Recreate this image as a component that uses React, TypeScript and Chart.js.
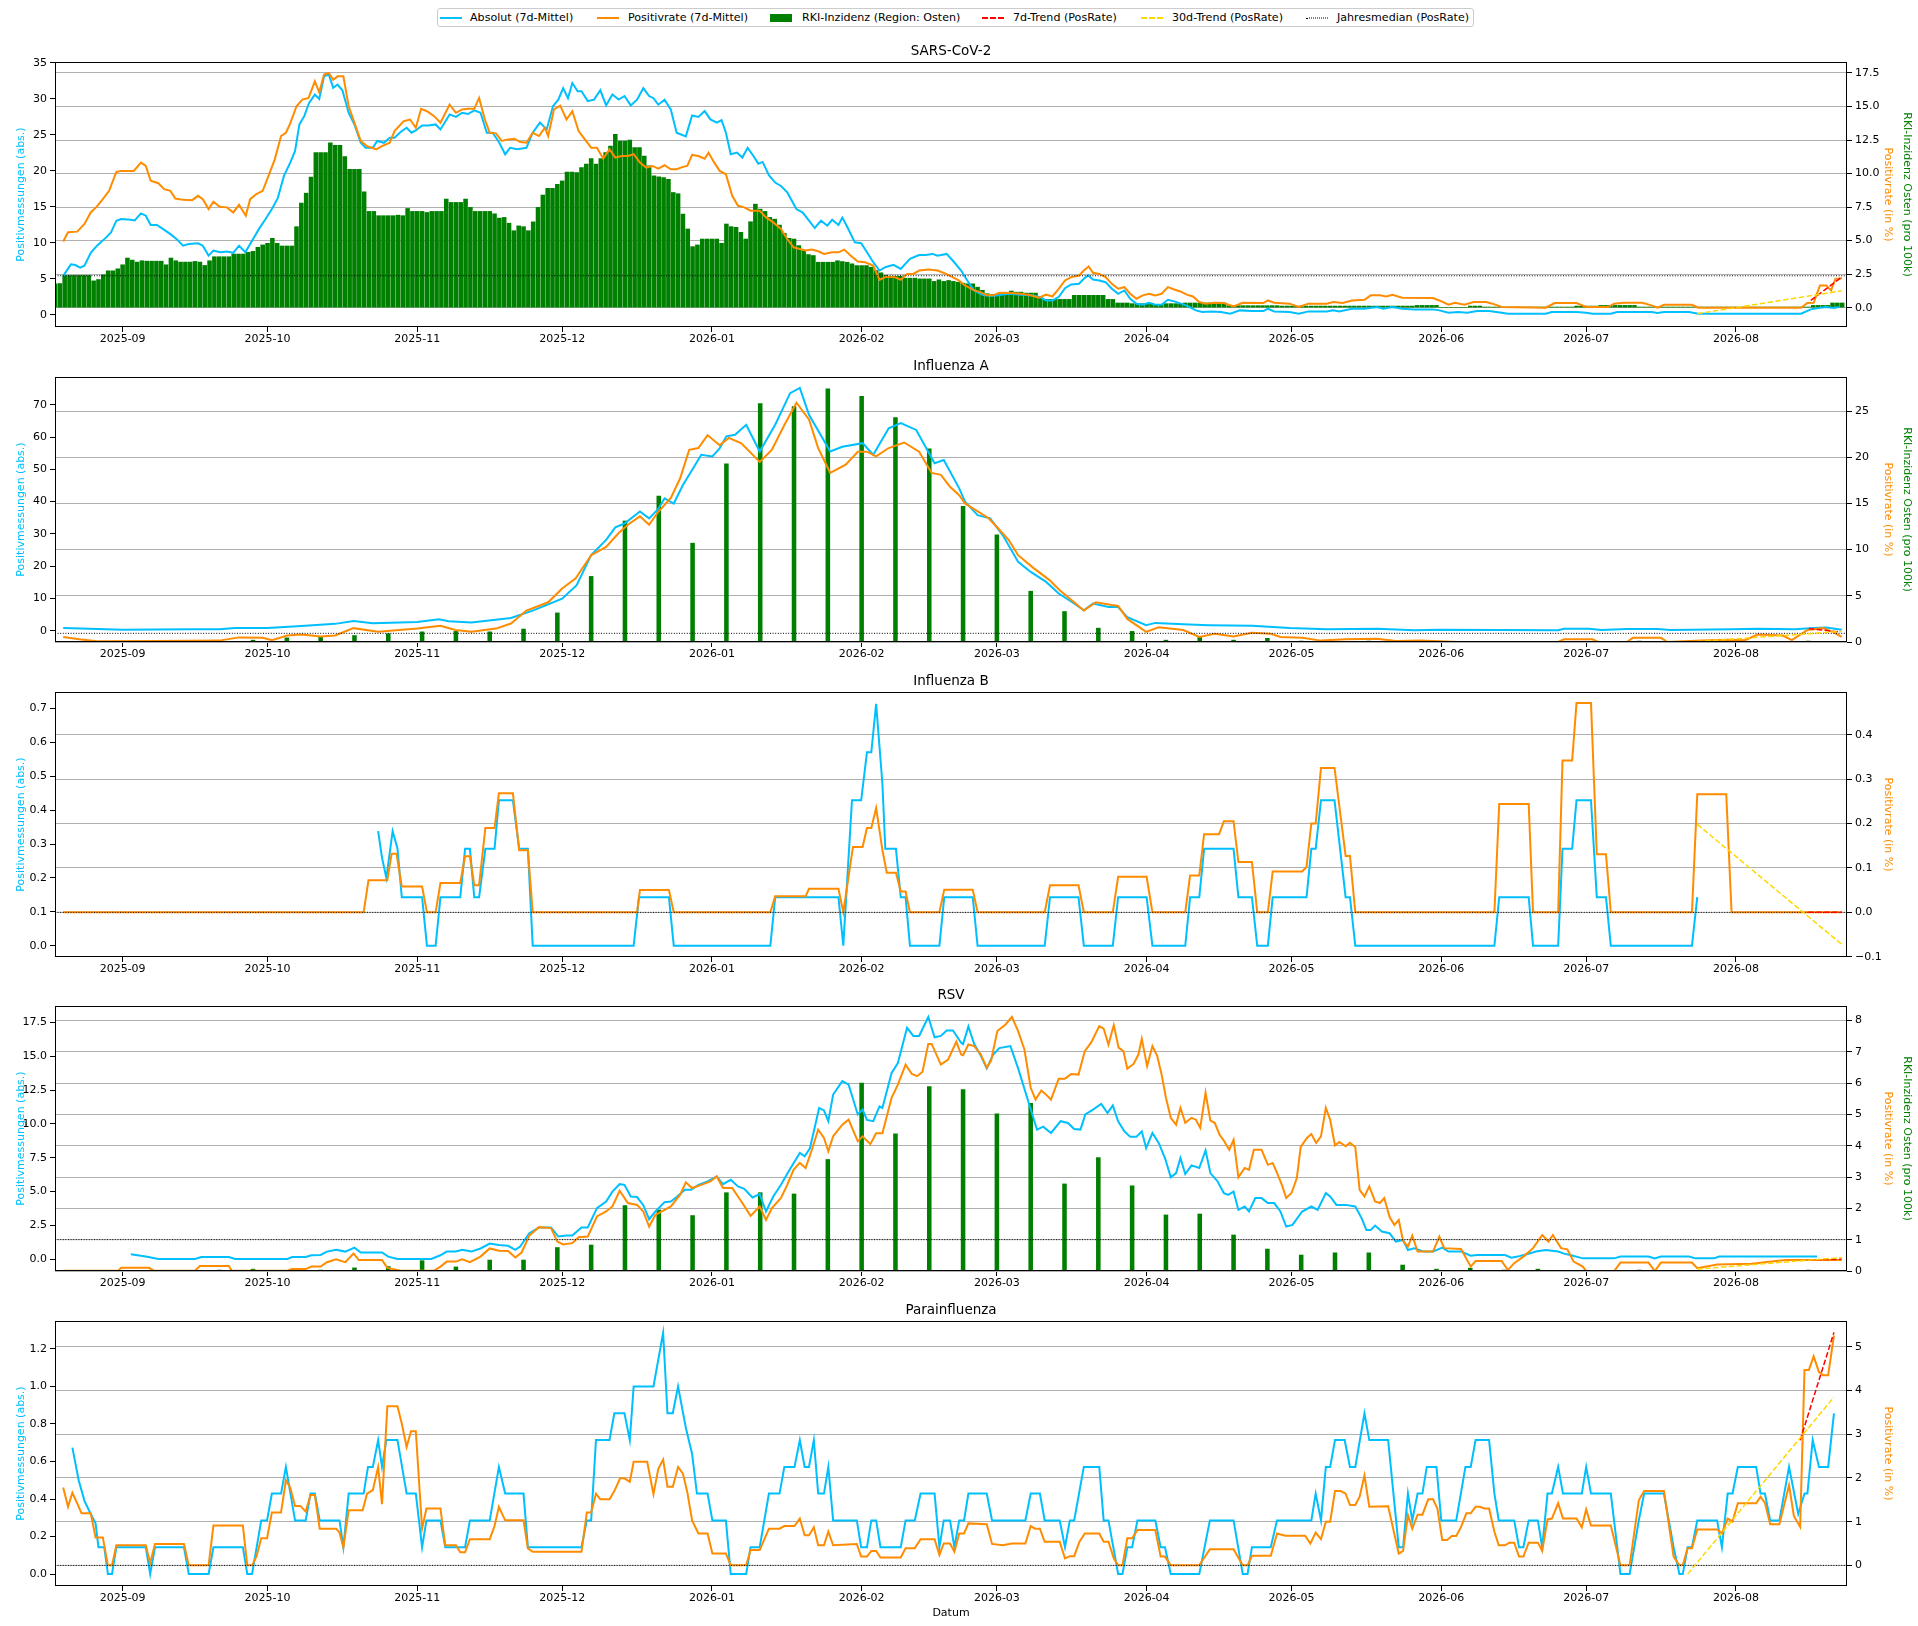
import { useEffect, useRef } from 'react';
import { Chart, registerables } from 'chart.js';

Chart.register(...registerables);
Chart.defaults.font.family = "'DejaVu Sans', sans-serif";
Chart.defaults.font.size = 11;
Chart.defaults.color = '#000';

// x values are days counted from 2025-08-19
const dayZero = Date.UTC(2025, 7, 19);
const monthTicks = ['2025-09', '2025-10', '2025-11', '2025-12', '2026-01', '2026-02', '2026-03', '2026-04', '2026-05', '2026-06', '2026-07', '2026-08'];
const monthDays = monthTicks.map(m => {
  const [y, mo] = m.split('-').map(Number);
  return (Date.UTC(y, mo - 1, 1) - dayZero) / 86400000;
});
const xMin = -1;
const xMax = 370;

type Pts = number[][];

// ---------- SARS-CoV-2 ----------
const sarsAbs: Pts = [[0.7,5.4],[2.3,7.0],[3.2,6.9],[4.2,6.55],[5.1,6.8],[6.4,8.6],[7.7,9.6],[9.6,10.75],[10.6,11.45],[11.7,13.07],[12.7,13.3],[14.7,13.2],[15.5,13.1],[16.8,14.08],[17.8,13.76],[18.8,12.47],[20.1,12.47],[21.4,11.9],[22.9,11.2],[24.2,10.5],[25.5,9.6],[26.7,9.83],[28.6,9.93],[29.6,9.6],[30.8,8.2],[31.8,8.9],[33.3,8.68],[34.6,8.77],[35.9,8.6],[37.1,9.6],[38.4,8.68],[40.1,10.62],[41.3,12.0],[42.6,13.3],[43.9,14.68],[45.1,16.16],[46.4,19.3],[47.7,21.15],[48.7,22.76],[49.6,26.45],[50.6,27.6],[51.6,29.45],[52.8,30.6],[53.7,30.0],[54.7,33.15],[55.7,33.38],[56.6,31.53],[57.5,32.0],[58.5,31.2],[59.8,28.07],[61,26.45],[62.3,23.9],[63.3,23.2],[64.8,23.2],[65.7,24.15],[67.1,23.9],[68.3,24.6],[69.3,24.6],[70.6,25.44],[71.8,25.99],[72.8,25.3],[73.7,25.62],[75,26.3],[76.3,26.3],[77.8,26.45],[78.8,25.76],[80.7,27.84],[82,27.5],[83.3,28.07],[84.5,27.9],[85.8,28.4],[87.1,28.07],[88.4,25.3],[89.6,25.3],[90.9,24.0],[92.2,22.3],[93.2,23.2],[94.7,23.0],[96.6,23.2],[97.9,25.3],[99.4,26.7],[100.8,25.76],[102.1,29.0],[103.2,29.9],[104.2,31.5],[105.2,30.1],[106.1,32.2],[107.2,31.07],[108,31.07],[109.3,29.7],[110.6,29.9],[111.9,31.2],[113.1,29.1],[114.4,30.6],[115.7,29.9],[116.9,30.4],[118.2,29.1],[119.5,29.9],[120.8,31.5],[122,30.4],[122.9,30.1],[123.9,29.2],[125.2,29.9],[126.5,28.5],[127.1,26.9],[127.7,25.3],[129.6,24.8],[130.9,27.7],[132.2,27.5],[133.5,28.3],[134.7,27.15],[136,26.7],[137,27.05],[137.9,25.3],[138.9,22.3],[140.2,22.53],[141.3,21.84],[142.4,23.2],[143.6,22.07],[144.6,21.0],[145.5,21.24],[146.8,19.4],[148.1,18.37],[149.3,17.9],[150.6,17.0],[152.5,14.68],[153.8,14.2],[155.1,13.07],[156.3,12.05],[157.6,13.07],[158.9,12.37],[159.9,13.2],[161.2,12.47],[162,13.5],[162.9,12.37],[164.6,10.06],[165.9,9.93],[167.1,8.68],[168.4,7.3],[169.7,6.14],[170.9,6.6],[172.6,6.93],[174.1,6.37],[176,7.76],[177.9,8.3],[179.2,8.3],[180.7,8.45],[181.7,8.2],[183.6,8.45],[184.9,7.5],[186.6,6.14],[188.1,4.52],[189.3,3.37],[191,2.77],[192.6,2.59],[193.9,2.68],[196.5,2.9],[199,2.77],[201.6,2.68],[202.9,2.45],[204.2,1.99],[205.5,1.99],[206.8,2.45],[208.1,3.69],[209.4,4.2],[211,4.3],[212,4.99],[212.9,5.45],[213.9,4.89],[215.2,4.75],[216.5,4.52],[217.8,3.6],[219.1,2.9],[220.4,3.37],[221.6,2.22],[222.9,1.52],[224.2,1.38],[225.5,1.66],[226.8,1.38],[228.1,1.38],[229.4,2.08],[230.7,1.85],[232.6,1.43],[233.9,1.06],[235.2,0.6],[236.5,0.37],[238.4,0.46],[240.4,0.37],[242.3,0.14],[244.3,0.6],[246.8,0.5],[249.2,0.5],[250.1,0.83],[251.4,0.46],[254.6,0.37],[256.5,0.14],[258.5,0.46],[262.3,0.46],[263.6,0.6],[264.9,0.46],[267.5,0.83],[270.1,0.83],[272.7,1.06],[274,0.83],[275.9,1.06],[277.9,0.83],[280.4,0.74],[284.3,0.74],[285.6,0.6],[287.5,0.28],[289.5,0.37],[291.4,0.28],[293.4,0.5],[295.9,0.5],[298.5,0.28],[299.8,0.14],[307.6,0.14],[308.9,0.37],[314,0.37],[316,0.28],[317.3,0.14],[321.1,0.14],[322.4,0.37],[329.5,0.37],[330.8,0.23],[332.1,0.37],[337.3,0.37],[339.2,0.14],[360.5,0.14],[362.5,0.74],[364.4,0.97],[365.7,1.06],[367.3,0.92],[368.3,1.06]];
const sarsRate: Pts = [[0.7,4.93],[1.7,5.62],[3.6,5.67],[5.1,6.24],[6.4,7.1],[7.7,7.55],[8.9,8.1],[10.2,8.71],[11.7,10.12],[12.7,10.2],[15.3,10.2],[16.8,10.82],[17.8,10.57],[18.8,9.46],[20.4,9.28],[21.6,8.84],[22.9,8.71],[23.9,8.14],[25.5,8.04],[27.4,8.02],[28.6,8.34],[29.6,8.09],[30.8,7.35],[31.8,7.9],[33.1,7.52],[34.6,7.48],[35.9,7.1],[37.1,7.67],[38.5,6.86],[39.4,8.09],[40.7,8.47],[42,8.71],[43.2,9.83],[44.5,11.06],[45.8,12.8],[46.8,13.04],[47.7,13.74],[49,15.02],[50.2,15.52],[51.5,15.64],[52.8,16.88],[53.7,16.06],[54.7,17.38],[55.7,17.5],[56.6,17.0],[57.5,17.25],[58.7,17.25],[59.8,15.02],[61,13.79],[62.3,12.43],[63.6,12.05],[65.5,11.81],[66.7,12.05],[68.3,12.3],[69.3,13.17],[71.2,13.91],[72.5,14.03],[73.7,13.42],[74.8,14.83],[76,14.65],[77.5,14.28],[78.8,13.79],[80.7,15.15],[82,14.53],[83.3,14.78],[84.5,14.83],[85.8,14.83],[86.8,15.64],[88,14.03],[89,13.04],[90.3,13.0],[91.5,12.43],[92.8,12.55],[94.1,12.6],[95.3,12.35],[96.6,12.3],[97.9,13.04],[99.2,12.8],[100.4,13.42],[101.1,12.8],[102.3,14.78],[103.6,15.07],[104.9,14.03],[106.1,14.65],[107.4,13.17],[108.7,12.55],[110,11.93],[111.2,11.93],[112.5,11.11],[113.8,11.81],[115,11.19],[116.3,11.31],[117.6,11.31],[118.8,11.44],[120.1,10.82],[121.4,10.45],[122.7,10.57],[123.9,10.37],[125.2,10.62],[126.5,10.32],[127.7,10.32],[129,10.5],[129.9,10.57],[130.9,11.39],[132.2,11.31],[133.5,11.11],[134.3,11.56],[135.4,10.87],[136.6,10.2],[137.9,9.95],[139.2,8.34],[140.4,7.6],[141.7,7.48],[143,7.23],[144.9,7.23],[146.2,6.73],[147.7,6.36],[149.3,5.87],[150.6,5.12],[151.9,4.5],[153.2,4.38],[154.4,4.26],[155.7,4.33],[157,4.21],[158.2,4.01],[159.9,4.13],[161.2,4.13],[162.4,4.33],[163.7,3.89],[165.2,3.44],[166.7,3.39],[168.4,3.14],[169.7,2.08],[170.9,2.28],[172.8,2.28],[174.1,2.08],[175.4,2.52],[176.7,2.52],[177.9,2.77],[179.8,2.85],[181.7,2.77],[183.5,2.52],[184.8,2.28],[186.1,2.03],[187.4,1.66],[189.3,1.29],[190.6,1.16],[191.9,0.92],[193.2,0.92],[194.5,1.11],[197.1,1.09],[199,1.04],[201,0.92],[202.7,0.74],[204.2,0.97],[205.5,0.84],[206.8,1.41],[208.1,2.03],[209.4,2.28],[211,2.4],[212,2.77],[213,3.07],[213.9,2.6],[215.2,2.52],[216.5,2.28],[217.8,1.78],[219.1,1.41],[220.4,1.53],[221.6,1.04],[222.9,0.67],[224.2,0.92],[225.5,1.04],[226.8,0.92],[228.1,1.04],[229.4,1.53],[230.7,1.36],[232,1.21],[233.3,0.97],[234.6,0.84],[235.9,0.42],[237.2,0.3],[239.1,0.37],[241,0.35],[243,0.1],[244.9,0.37],[249.2,0.35],[250.1,0.54],[251.4,0.37],[254.6,0.3],[256.5,0.05],[258.5,0.3],[262.3,0.3],[263.6,0.42],[265.6,0.35],[267.5,0.54],[270.1,0.59],[271.4,0.92],[273.3,0.92],[274.6,0.84],[275.9,0.97],[277.9,0.74],[284.3,0.72],[285.6,0.54],[287.5,0.22],[288.8,0.37],[290.8,0.22],[292.7,0.42],[295.3,0.42],[296.6,0.3],[298.5,0.05],[307.6,0],[309.5,0.35],[314,0.35],[316,0.05],[320.5,0.05],[321.8,0.3],[323.7,0.37],[327.6,0.37],[329.5,0.17],[330.8,0],[332.1,0.22],[337.9,0.22],[339.2,0],[360.5,0],[361.8,0.35],[363.1,0.37],[364.4,1.66],[365.7,1.66],[366.7,1.29],[367.6,2.15],[368.9,2.2]];
// daily RKI incidence, first value is day -1
const sarsBarStart = -1;
const sarsBars = [
  1.78, 1.8, 2.4, 2.4, 2.4, 2.4, 2.4, 2.4, 2.0, 2.1, 2.45,
  2.75, 2.75, 2.9, 3.2, 3.7, 3.55, 3.4, 3.5, 3.47, 3.47,
  3.47, 3.47, 3.2, 3.7, 3.5, 3.4, 3.4, 3.4, 3.45, 3.4,
  3.15, 3.5, 3.8, 3.8, 3.8, 3.8, 4.0, 4.0, 4.0, 4.13,
  4.2, 4.5, 4.68, 4.8, 5.17, 4.8, 4.6, 4.6, 4.6, 6.04,
  7.8, 8.54, 9.73, 11.56, 11.56, 11.56, 12.3, 12.1, 12.1, 11.26,
  10.32, 10.32, 10.32, 8.64, 7.18, 7.18, 6.86, 6.86, 6.86, 6.86,
  6.9, 6.86, 7.4, 7.18, 7.18, 7.18, 7.1, 7.18, 7.18, 7.18,
  8.1, 7.85, 7.85, 7.85, 8.1, 7.48, 7.18, 7.18, 7.18, 7.18,
  7.0, 6.68, 6.73, 6.3, 5.74, 6.1, 6.04, 5.74, 6.4, 7.48,
  8.4, 8.9, 8.9, 9.2, 9.45, 10.12, 10.12, 10.07, 10.45, 10.7,
  11.11, 10.7, 11.11, 11.56, 12.05, 12.92, 12.43, 12.43, 12.5, 11.93,
  11.93, 11.3, 10.57, 9.83, 9.75, 9.7, 9.58, 8.59, 8.5, 6.98,
  5.87, 4.55, 4.68, 5.12, 5.12, 5.12, 5.12, 4.8, 6.24, 6.04,
  5.99, 5.62, 5.12, 6.41, 7.72, 7.35, 7.18, 6.73, 6.6, 6.16,
  5.54, 5.17, 5.12, 4.63, 4.26, 3.96, 3.89, 3.39, 3.39, 3.39,
  3.39, 3.5, 3.44, 3.39, 3.27, 3.14, 3.14, 3.14, 3.02, 2.77,
  2.6, 2.4, 2.35, 2.35, 2.35, 2.2, 2.2, 2.2, 2.15, 2.15,
  2.15, 1.96, 2.08, 1.96, 2.03, 1.96, 1.9, 1.83, 1.78, 1.78,
  1.53, 1.3, 1.04, 0.97, 0.97, 0.97, 1.04, 1.24, 1.16, 1.16,
  1.09, 1.09, 1.09, 0.84, 0.62, 0.62, 0.62, 0.62, 0.62, 0.62,
  0.92, 0.92, 0.92, 0.92, 0.92, 0.92, 0.92, 0.62, 0.62, 0.35,
  0.35, 0.35, 0.3, 0.3, 0.3, 0.3, 0.3, 0.22, 0.22, 0.3,
  0.3, 0.3, 0.3, 0.35, 0.35, 0.35, 0.35, 0.35, 0.35, 0.35,
  0.35, 0.35, 0.15, 0.15, 0.15, 0.15, 0.15, 0.15, 0.15, 0.15,
  0.15, 0.15, 0.15, 0.12, 0.12, 0.12, 0.12, 0.12, 0.12, 0.12,
  0.12, 0.12, 0.12, 0.12, 0.12, 0.12, 0.12, 0.12, 0.12, 0.12,
  0.12, 0.12, 0.12, 0.12, 0.12, 0.12, 0.12, 0.12, 0.12, 0.12,
  0.12, 0.17, 0.17, 0.17, 0.17, 0.17, 0, 0, 0, 0,
  0, 0, 0.12, 0.12, 0.12, 0.05, 0.05, 0.05, 0.05, 0.05,
  0.05, 0.05, 0.05, 0.05, 0.05, 0.05, 0.05, 0.05, 0.05, 0.05,
  0.05, 0.05, 0.05, 0.05, 0.12, 0.12, 0.12, 0.12, 0.12, 0.17,
  0.17, 0.17, 0.17, 0.17, 0.17, 0.17, 0.17, 0.05, 0.05, 0.05,
  0.05, 0.05, 0.05, 0.05, 0.05, 0.05, 0.05, 0.05, 0.05, 0.05,
  0.05, 0.05, 0.05, 0.05, 0.05, 0.05, 0.05, 0.05, 0.05, 0.05,
  0.05, 0.05, 0.05, 0.05, 0.05, 0.05, 0.05, 0.05, 0.05, 0.05,
  0.05, 0.05, 0.05, 0.17, 0.17, 0.17, 0.17, 0.35, 0.35, 0.35,
];
const sarsTrend7: Pts = [[362.5,0.54],[368.9,2.28]];
const sarsTrend30: Pts = [[339,-0.45],[368.9,1.26]];
const sarsMedian = 2.38;

// weekly RKI incidence days (Sundays)
const weekDays = [19,26,33,40,47,54,61,68,75,82,89,96,103,110,117,124,131,138,145,152,159,166,173,180,187,194,201,208,215,222,229,236,243,250,257,264,271,278,285,292,299,306,313,320,327,334,341,348,355,362];

// ---------- Influenza A ----------
const fluAAbs: Pts = [[0.7,0.8],[13,0.3],[27,0.4],[33,0.4],[36.3,0.8],[43,0.8],[50,1.45],[57,2.1],[60.8,3.0],[64.8,2.3],[74,2.7],[78.5,3.5],[80.5,2.9],[85.2,2.5],[93.4,3.9],[97.9,6.2],[104,9.9],[107,14.1],[110,23.4],[113.1,28.1],[115,32],[116.9,33.2],[120.1,36.9],[122,34.8],[123.9,37.7],[125.2,41],[127.1,39.4],[129,45.1],[130.9,49.8],[132.8,54.5],[135.1,54],[136.6,56.5],[138,60.2],[139.8,60.7],[142.1,63.8],[144.9,55.5],[148.1,63.8],[151.2,73.6],[153.2,75.2],[155.1,66.9],[159.5,55.5],[162,57],[166.2,58.1],[168.4,54.5],[171.6,62.7],[174.1,64.3],[177.3,62.2],[181.1,51.9],[183,52.9],[186.2,44.1],[187.4,40],[190,35.8],[192.6,34.8],[195.2,29.6],[198.4,21.3],[201,18.2],[204.2,15.1],[206.8,11.5],[210,8.4],[212,6.3],[213.9,8.4],[217.1,7.3],[219.1,7.3],[221,4.2],[224.9,1.7],[226.8,2.4],[233.9,1.9],[237.8,1.7],[246.8,1.5],[254.6,0.8],[262.3,0.4],[272.7,0.6],[280.4,0.1],[285.6,0.3],[310.2,0.1],[311.4,0.6],[316.6,0.6],[319.2,0.2],[324.4,0.5],[330.8,0.5],[333.4,0.2],[346.3,0.4],[351.5,0.6],[359.2,0.4],[363.1,0.8],[365.7,1.0],[368.9,0.3]];
const fluARate: Pts = [[0.7,0.55],[4,0.3],[7.7,0.07],[20,0.1],[33,0.15],[37.1,0.5],[42,0.45],[43.9,0.2],[47.1,0.7],[50,0.8],[54,0.6],[57,0.7],[60.8,1.5],[65.9,1.1],[74,1.45],[78.8,1.75],[81.9,1.3],[85.2,1.1],[90.3,1.45],[93.4,2.0],[96.6,3.4],[101.1,4.3],[104,5.8],[106.8,6.9],[110,9.4],[113.1,10.3],[115.7,11.8],[117.6,12.7],[120.1,13.6],[122,12.7],[123.9,14.1],[126.5,15.6],[128.4,17.7],[130.3,20.8],[132.2,21.0],[134.1,22.4],[136.6,21.3],[138.5,22.1],[141.1,21.5],[144.9,19.5],[147.4,20.8],[150,23.5],[152.5,25.9],[155.1,24.1],[157,21.0],[159.5,18.3],[162.7,19.2],[165.2,20.6],[167.1,20.6],[169,20.1],[171.6,21.0],[174.8,21.6],[177.9,20.6],[180.5,18.3],[182.4,18.1],[184.3,16.8],[186.2,15.9],[187.4,15],[192.3,13.4],[193.9,12.5],[196.5,11],[198.4,9.4],[201.6,8.0],[204.9,6.7],[207,5.6],[210,4.3],[212,3.4],[214.5,4.3],[217.8,4.0],[219.1,3.9],[221,2.5],[224.9,1.1],[227.5,1.6],[232.6,1.3],[235.9,0.55],[239.1,0.9],[243,0.6],[246.8,1.0],[250.7,0.9],[252.7,0.55],[257.2,0.45],[261.1,0.15],[266.2,0.3],[272.7,0.35],[276.6,0.1],[281.7,0.15],[289.5,0],[310.2,0],[311.4,0.3],[317.3,0.3],[318.5,0],[324.4,0],[325.7,0.45],[331.5,0.45],[332.8,0],[339.9,0.15],[345,0.25],[348.9,0.2],[351.5,0.8],[356.7,0.7],[358.6,0.2],[361.8,1.3],[365.1,1.5],[367,1.1],[368.9,0.55]];
const fluABars = [0,0,0.1,0.2,0.45,0.6,0.7,0.9,1.1,1.15,1.1,1.4,3.15,7.1,13.1,15.8,10.7,19.3,25.8,25.5,27.4,26.6,24.3,20.9,14.7,11.6,5.5,3.3,1.5,1.15,0.2,0.55,0.2,0.4,0.1,0.05,0.1,0.05,0.05,0.05,0.05,0.05,0.05,0.05,0.1,0.05,0.05,0.05,0.05,0.1];
const fluATrend7: Pts = [[362.1,1.45],[368.3,1.1]];
const fluATrend30: Pts = [[339,0.05],[368.9,1.15]];
const fluAMedian = 0.94;

// ---------- Influenza B ----------
const fluBAbs: Pts = [[65.9,0.338],[66.7,0.26],[67.6,0.2],[68.9,0.338],[69.9,0.287],[70.8,0.143],[75,0.143],[76,0],[77.8,0],[78.8,0.143],[82.9,0.143],[83.9,0.286],[84.9,0.286],[85.8,0.143],[86.8,0.143],[88.1,0.286],[90,0.286],[90.9,0.429],[93.8,0.429],[95.1,0.286],[96.9,0.286],[97.9,0],[118.8,0],[119.9,0.143],[126.1,0.143],[127.1,0],[147.1,0],[148.1,0.143],[161.2,0.143],[162.2,0],[164,0.429],[165.9,0.429],[167.1,0.571],[168,0.571],[169,0.714],[170.3,0.478],[170.9,0.286],[173.1,0.286],[174.1,0.143],[175.1,0.143],[176,0],[182.1,0],[183.1,0.143],[189,0.143],[190,0],[203.9,0],[205,0.143],[210.9,0.143],[212,0],[218,0],[219.1,0.143],[225,0.143],[226.2,0],[233,0],[234,0.143],[235.9,0.143],[236.9,0.286],[243,0.286],[244,0.143],[246.8,0.143],[247.9,0],[250.1,0],[251.1,0.143],[258.1,0.143],[259.1,0.286],[260,0.286],[261.1,0.429],[263.9,0.429],[266.2,0.143],[267.1,0.143],[268.2,0],[297,0],[298,0.143],[304.1,0.143],[305,0],[310.2,0],[311.1,0.286],[313.1,0.286],[314,0.429],[317,0.429],[318.2,0.143],[320.1,0.143],[321.1,0],[337.9,0],[339,0.143]];
const fluBRate: Pts = [[0.7,0],[62.9,0],[63.9,0.072],[67.8,0.072],[68.7,0.132],[69.7,0.132],[70.8,0.058],[75,0.058],[76,0],[77.8,0],[78.8,0.066],[82.9,0.066],[83.9,0.126],[84.9,0.126],[85.8,0.061],[86.8,0.061],[88.1,0.19],[90,0.19],[90.9,0.268],[93.8,0.268],[95.1,0.14],[96.9,0.14],[97.9,0],[119.5,0],[120.1,0.05],[126.1,0.05],[127.1,0],[147.1,0],[148.1,0.036],[154.4,0.036],[155.1,0.053],[161.2,0.053],[162.2,0],[164.2,0.147],[166.2,0.147],[167.1,0.19],[168,0.19],[169,0.235],[170.3,0.14],[171.2,0.089],[173.1,0.089],[174.1,0.047],[175.1,0.047],[176,0],[182.1,0],[183.1,0.051],[189,0.051],[190,0],[203.9,0],[205,0.061],[210.9,0.061],[212,0],[218,0],[219.1,0.08],[225,0.08],[226.2,0],[233,0],[234,0.083],[235.9,0.083],[236.9,0.176],[240,0.176],[241,0.205],[243,0.205],[244,0.113],[246.8,0.113],[247.9,0],[250.1,0],[251.1,0.092],[257.2,0.092],[258.1,0.102],[259.1,0.2],[260,0.2],[261.1,0.325],[263.9,0.325],[266.2,0.127],[267.1,0.127],[268.2,0],[297,0],[298,0.244],[304.1,0.244],[305,0],[310.2,0],[311.1,0.342],[313.1,0.342],[314,0.471],[317,0.471],[318.2,0.131],[320.1,0.131],[321.1,0],[337.9,0],[339,0.266],[345,0.266],[346.1,0],[368.9,0]];
const fluBTrend7: Pts = [[362,0],[368.9,0]];
const fluBTrend30: Pts = [[339,0.198],[368.9,-0.072]];
const fluBMedian = 0;

// ---------- RSV ----------
const rsvAbs: Pts = [[14.7,0.37],[17.8,0.2],[20.4,0.02],[28,0.02],[29.3,0.17],[35,0.17],[36.3,0.02],[47.1,0.02],[48.1,0.17],[50.9,0.17],[52.1,0.3],[54,0.32],[55.3,0.57],[57.2,0.7],[59.1,0.57],[61,0.86],[62.3,0.5],[66.7,0.5],[68,0.2],[69.9,0.02],[76.9,0.02],[78.8,0.3],[80.1,0.57],[82,0.57],[83.3,0.7],[85.2,0.57],[87.1,0.8],[89,1.16],[90.9,1.06],[92.8,1.0],[94.3,0.7],[95.3,0.94],[97.2,1.93],[99.2,2.35],[101.7,2.35],[103.2,1.68],[104.9,1.75],[106.1,1.75],[108,2.35],[109.3,2.35],[111.2,3.78],[113.1,4.27],[114.4,5.0],[115.9,5.55],[116.9,5.5],[118.2,4.64],[119.5,4.6],[120.8,4.0],[122,2.96],[123.3,3.53],[125.2,4.22],[126.5,4.27],[127.7,4.6],[129.4,5.13],[130.7,5.13],[132.2,5.5],[134.1,5.75],[136,6.12],[137.3,5.55],[138.9,5.87],[140.4,5.38],[141.7,5.2],[143.4,4.57],[144.9,4.81],[146.2,3.53],[147.7,4.64],[149.3,5.5],[150.6,6.32],[151.9,7.1],[153.2,7.85],[154.2,7.6],[155.3,8.2],[157.2,11.18],[158.2,11.0],[159.1,10.2],[160.1,12.17],[162,13.16],[163.3,12.9],[165.2,10.7],[166.2,11.06],[167.1,10.3],[168.4,10.2],[169.7,11.3],[170.3,11.18],[172.2,13.77],[173.5,14.5],[175.4,17.1],[176.7,16.5],[177.9,16.5],[179.8,17.9],[181.1,16.4],[182.4,16.5],[183.6,16.9],[184.9,16.9],[186.6,16.0],[187,15.9],[188.1,17.2],[189.3,15.9],[190.6,15.1],[191.9,14.1],[193.2,15.1],[194.5,15.6],[196.8,15.75],[198.4,14.1],[200.3,11.9],[202.3,9.58],[203.6,9.8],[205.2,9.33],[207.2,10.2],[208.7,10.07],[210,9.63],[211.3,9.58],[212.3,10.7],[213.9,11.06],[215.6,11.48],[216.9,10.8],[218,11.36],[219.1,10.2],[220.4,9.45],[221.6,9.06],[222.9,9.06],[224,9.45],[224.9,8.22],[226.2,9.33],[227.5,8.6],[228.8,7.48],[230,6.05],[231.1,6.37],[232,7.48],[233,6.3],[234.3,6.94],[235.9,6.74],[237.2,8.05],[238.2,6.37],[239.7,5.75],[241,4.89],[241.9,4.76],[243,5.01],[244,3.65],[245.3,3.9],[246.2,3.53],[247.5,4.52],[248.8,4.52],[250.1,4.15],[251.4,4.15],[252.7,3.53],[253.9,2.42],[255.2,2.54],[257.2,3.53],[259.1,3.9],[260.4,3.65],[262.1,4.89],[263,4.64],[264.3,4.02],[266.2,4.02],[268.2,3.9],[269.5,3.04],[270.5,2.17],[271.4,2.17],[272.3,2.49],[273.7,2.05],[275.3,1.93],[276.6,1.31],[278.1,1.43],[279.1,0.69],[280.4,0.81],[282.4,0.57],[284.3,0.57],[286.2,0.86],[287.5,0.57],[290.1,0.57],[292.1,0.27],[293.4,0.32],[299.2,0.32],[300.5,0.12],[301.8,0.2],[303.7,0.37],[305.6,0.57],[307.6,0.69],[308.9,0.64],[310.2,0.57],[311.4,0.42],[312.7,0.32],[315.3,0.07],[321.8,0.07],[323.1,0.2],[328.9,0.2],[330.2,0.07],[331.5,0.2],[337.3,0.2],[338.6,0.07],[342.5,0.07],[343.5,0.2],[363.8,0.2]];
const rsvRate: Pts = [[0.7,0.01],[12.1,0.01],[12.7,0.1],[18.5,0.1],[19.4,0.01],[28,0.01],[29,0.16],[35,0.16],[35.6,0.01],[47.1,0.01],[48.1,0.06],[50.9,0.06],[52.1,0.14],[54,0.14],[55.3,0.28],[57.2,0.37],[59.1,0.28],[60.8,0.56],[61.9,0.35],[66.7,0.35],[67.8,0.1],[70.6,0.01],[77.5,0.01],[78.8,0.14],[80.1,0.3],[82,0.3],[83.3,0.37],[84.9,0.28],[87.1,0.46],[89,0.72],[90.9,0.65],[92.8,0.64],[94.3,0.43],[95.6,0.59],[97.2,1.13],[99.2,1.4],[101.7,1.37],[103,0.94],[104.2,0.85],[106.1,0.89],[107.4,1.08],[109.3,1.1],[111.2,1.74],[113.1,1.9],[114.4,2.06],[115.9,2.56],[117.6,2.17],[119.5,2.11],[120.8,1.9],[122,1.42],[123.3,1.79],[125.2,1.95],[126.5,2.06],[128.4,2.43],[129.6,2.83],[130.9,2.65],[132.8,2.75],[134.7,2.86],[136,3.02],[137.3,2.65],[139.2,2.65],[141.1,2.22],[143,1.76],[144.9,2.06],[146.2,1.63],[147.4,2.0],[149.3,2.33],[150.6,2.75],[151.9,3.23],[153.2,3.45],[154.4,3.29],[155.7,3.87],[157,4.51],[158.2,4.25],[159.1,3.82],[160.1,4.3],[162,4.67],[163.3,4.83],[165.2,4.14],[166.2,4.3],[167.8,4.05],[169,4.4],[170.3,4.4],[172.2,5.53],[173.5,5.95],[175.1,6.59],[176.4,6.29],[177.5,6.22],[178.6,6.36],[179.8,7.25],[180.5,7.25],[182.4,6.59],[183.9,6.75],[185.6,7.32],[186.6,6.91],[187,6.89],[188.1,7.23],[189.3,7.18],[190.6,6.93],[191.9,6.49],[192.8,6.72],[194.1,7.66],[195.8,7.87],[197.1,8.11],[198.4,7.66],[199.7,7.07],[201,5.85],[202,5.47],[203.2,5.76],[204.2,5.63],[205.2,5.47],[206.8,6.14],[208.1,6.14],[209.4,6.29],[210.9,6.27],[212.2,7.02],[213.5,7.29],[215.2,7.82],[216.1,7.74],[217.1,7.23],[218.2,7.85],[219.2,7.13],[220.2,7.02],[221,6.46],[222.3,6.61],[223.3,6.91],[224,7.41],[225.1,6.54],[226.2,7.18],[227.2,6.86],[228.1,6.27],[229,5.53],[230,4.89],[231.1,4.67],[232,5.21],[233,4.73],[234.3,4.89],[235.2,4.83],[236.1,4.57],[237.2,5.69],[238.2,4.8],[239.1,4.73],[240.1,4.35],[241,4.16],[242.1,3.87],[243,4.19],[244,2.99],[245.3,3.29],[246.2,3.23],[247.2,3.87],[248.8,3.87],[250.1,3.39],[251.1,3.45],[252,3.13],[253,2.75],[253.9,2.33],[255,2.49],[256.1,2.97],[256.9,3.96],[258.2,4.25],[259.1,4.37],[260.1,4.09],[261.1,4.3],[262.1,5.21],[263,4.83],[264,4.01],[264.9,4.12],[266.2,3.98],[267.1,4.09],[268.2,3.96],[269.1,2.59],[270.1,2.38],[271.1,2.7],[272.3,2.22],[273.3,2.17],[274.2,2.33],[275.3,1.72],[276.3,1.47],[277.2,1.63],[278.1,0.96],[279.1,0.78],[280,1.13],[281.1,0.62],[284.3,0.62],[285.6,1.1],[286.6,0.73],[290.1,0.7],[292.1,0.14],[293.1,0.32],[298.5,0.32],[299.8,0.03],[301.1,0.25],[303,0.46],[305,0.73],[306.9,1.15],[308.2,0.94],[309.1,1.15],[310.8,0.73],[312.1,0.69],[313.4,0.3],[315.3,0.14],[316,0],[321.8,0],[323.1,0.27],[328.9,0.27],[330.2,0],[331.5,0.27],[337.9,0.27],[339,0.09],[343.1,0.21],[350.2,0.23],[357.3,0.35],[368.9,0.35]];
const rsvBars = [0.03,0.02,0.03,0.06,0.02,0.03,0.1,0.14,0.33,0.13,0.35,0.35,0.75,0.83,2.09,1.95,1.77,2.5,2.5,2.46,3.56,6.0,4.38,5.89,5.79,5.02,5.35,2.78,3.62,2.72,1.79,1.82,1.15,0.7,0.51,0.58,0.58,0.19,0.06,0.09,0.03,0.06,0.02,0,0.03,0,0,0,0,0.03];
const rsvTrend7: Pts = [[361.8,0.35],[368.9,0.38]];
const rsvTrend30: Pts = [[339,0.06],[368.9,0.43]];
const rsvMedian = 1.0;

// ---------- Parainfluenza ----------
const paraAbs: Pts = [[2.6,0.674],[3.9,0.5],[5.1,0.39],[6.4,0.32],[7.4,0.27],[8,0.143],[9.2,0.143],[9.95,0],[10.8,0],[11.7,0.143],[17.8,0.143],[18.7,0],[19.7,0.143],[25.7,0.143],[26.7,0],[30.8,0],[31.8,0.143],[37.9,0.143],[38.8,0],[39.8,0],[41.7,0.286],[42.9,0.286],[43.9,0.429],[45.8,0.429],[46.8,0.571],[48.7,0.286],[50.9,0.286],[51.9,0.429],[52.8,0.429],[53.8,0.286],[57.9,0.286],[58.7,0.143],[59.8,0.429],[62.9,0.429],[63.8,0.571],[64.8,0.571],[65.9,0.714],[66.7,0.571],[67.6,0.714],[69.9,0.714],[71.8,0.429],[73.7,0.429],[75,0.143],[75.9,0.286],[78.8,0.286],[79.8,0.143],[83.9,0.143],[84.9,0.286],[89,0.286],[90.9,0.571],[92.2,0.429],[96,0.429],[96.9,0.143],[108,0.143],[109.1,0.286],[110,0.286],[111,0.714],[113.8,0.714],[114.8,0.857],[116.9,0.857],[118,0.714],[118.8,1.0],[122.9,1.0],[124.9,1.286],[125.8,0.857],[126.9,0.857],[128,1.0],[129.6,0.78],[130.9,0.64],[131.9,0.429],[134.1,0.429],[135.1,0.286],[137.9,0.286],[138.9,0],[142.1,0],[143,0.143],[144.9,0.143],[146.8,0.429],[149,0.429],[150,0.571],[152.1,0.571],[153.2,0.714],[154.2,0.571],[155.1,0.571],[156.1,0.714],[157,0.429],[158.2,0.429],[159.1,0.571],[160.1,0.286],[165,0.286],[165.9,0.143],[167.1,0.143],[168,0.286],[169,0.286],[169.9,0.143],[174.1,0.143],[175.1,0.286],[177,0.286],[178.2,0.429],[181.1,0.429],[182.1,0.143],[183,0.286],[184.3,0.286],[185.2,0.143],[186.2,0.286],[187.2,0.286],[188.1,0.429],[191.9,0.429],[193,0.286],[199.9,0.286],[201,0.429],[202.9,0.429],[203.9,0.286],[207,0.286],[208.1,0.143],[209.1,0.286],[210,0.286],[212,0.571],[215.2,0.571],[216.1,0.286],[217.1,0.286],[219.1,0],[220,0],[221,0.143],[222,0.143],[223.1,0.286],[226.8,0.286],[227.9,0.143],[228.8,0.143],[230,0],[235.9,0],[238.1,0.286],[243,0.286],[244.9,0],[245.9,0],[246.8,0.143],[250.7,0.143],[252,0.286],[259.1,0.286],[260,0.429],[261.1,0.286],[262.1,0.571],[263,0.571],[264,0.714],[266,0.714],[267.1,0.571],[268.2,0.571],[270.1,0.857],[271.1,0.714],[275,0.714],[277.2,0.143],[278.1,0.143],[279.1,0.429],[280,0.286],[281.1,0.429],[282.1,0.429],[283,0.571],[285,0.571],[286,0.286],[289.1,0.286],[291,0.571],[292.1,0.571],[293.1,0.714],[295.9,0.714],[297,0.429],[297.9,0.286],[301.1,0.286],[302.1,0.143],[303,0.143],[304.1,0.286],[306,0.286],[306.9,0.143],[308,0.429],[308.9,0.429],[310.2,0.571],[311.2,0.429],[315.1,0.429],[316,0.571],[317,0.429],[321.1,0.429],[323.1,0],[325,0],[326.9,0.286],[328,0.429],[332.1,0.429],[334.1,0.143],[335.3,0],[336,0],[337,0.143],[337.9,0.143],[339,0.286],[343.1,0.286],[344.1,0.143],[345.3,0.429],[346.3,0.429],[347.4,0.571],[351.2,0.571],[352.1,0.429],[353,0.429],[354.1,0.286],[356,0.286],[358,0.571],[359.9,0.32],[361.2,0.429],[361.8,0.429],[362.9,0.714],[364.2,0.571],[366.1,0.571],[367.3,0.857]];
const paraRate: Pts = [[0.7,1.78],[1.7,1.34],[2.6,1.66],[3.6,1.42],[4.5,1.19],[6.4,1.19],[7.4,0.64],[8.9,0.64],[9.95,0],[10.8,0],[11.7,0.46],[17.8,0.46],[18.7,0.05],[19.7,0.49],[25.7,0.49],[26.7,0],[30.8,0],[31.8,0.91],[37.9,0.91],[38.8,0],[39.8,0],[40.7,0.2],[41.7,0.62],[42.9,0.62],[43.9,1.21],[45.8,1.21],[46.8,1.95],[47.7,1.78],[48.7,1.36],[49.8,1.36],[50.9,1.23],[51.9,1.61],[52.8,1.61],[53.8,0.84],[57.2,0.84],[57.9,0.75],[58.7,0.41],[59.8,1.26],[62.7,1.26],[63.6,1.64],[64.8,1.72],[65.9,2.25],[66.7,1.4],[67.8,3.64],[69.9,3.64],[70.8,3.24],[71.8,2.71],[72.7,3.07],[73.7,3.07],[75,0.84],[75.9,1.3],[78.8,1.3],[79.8,0.46],[82,0.46],[82.9,0.3],[83.9,0.3],[84.9,0.6],[89,0.6],[90,0.9],[90.9,1.34],[92.2,1.03],[96,1.03],[96.9,0.39],[97.9,0.31],[108,0.31],[109.1,1.21],[110,1.21],[111,1.64],[111.9,1.51],[113.8,1.51],[114.8,1.7],[116,1.99],[116.9,1.99],[118,1.91],[118.8,2.37],[121.6,2.37],[122.9,1.63],[123.9,2.21],[124.9,2.42],[125.8,1.8],[126.9,1.8],[128,2.25],[129,2.1],[129.9,1.68],[130.9,1.03],[132.2,0.73],[134.1,0.73],[135.1,0.27],[137.9,0.27],[138.9,0],[142.1,0],[143,0.35],[144.9,0.35],[146.8,0.84],[149,0.84],[150,0.9],[152.1,0.9],[153.2,1.07],[154.2,0.69],[155.1,0.69],[156.1,0.87],[157,0.46],[158.2,0.46],[159.1,0.77],[160.1,0.46],[165,0.49],[165.9,0.2],[167.1,0.2],[168,0.33],[169,0.33],[169.9,0.18],[174.1,0.18],[175.1,0.39],[177,0.39],[178.2,0.6],[181.1,0.6],[182.1,0.24],[183,0.5],[184.3,0.5],[185.2,0.31],[186.2,0.73],[187.2,0.73],[188.1,0.96],[191.9,0.94],[193,0.49],[195.2,0.46],[197.1,0.5],[199.9,0.5],[201,0.9],[201.9,0.84],[202.9,0.84],[203.9,0.54],[207,0.54],[208.1,0.16],[209.1,0.21],[210,0.21],[211.1,0.54],[212.2,0.73],[215.2,0.73],[216.1,0.54],[217.1,0.54],[218.2,0.16],[219.1,0],[220,0],[221,0.62],[222,0.62],[223.1,0.81],[226.8,0.81],[227.9,0.2],[228.8,0.2],[230,0],[235.9,0],[238.1,0.37],[243,0.37],[244.9,0],[245.9,0],[246.8,0.22],[250.7,0.22],[252,0.73],[253.7,0.68],[257.8,0.68],[258.9,0.5],[260,0.75],[261.1,0.6],[262.1,1.0],[263,1.0],[264,1.7],[265.2,1.7],[266.2,1.64],[267.1,1.38],[268.2,1.38],[269.1,1.57],[270.1,2.06],[271.1,1.34],[275,1.35],[277.2,0.27],[278.1,0.33],[279.1,1.15],[280,0.84],[281.1,1.16],[282.1,1.16],[283.3,1.51],[284.3,1.51],[285.2,1.3],[286.2,0.58],[287.2,0.58],[288.2,0.67],[289.1,0.67],[290.1,0.88],[291.2,1.19],[292.1,1.19],[293.1,1.34],[294,1.34],[294.9,1.3],[295.9,1.3],[297,0.77],[297.9,0.46],[299.2,0.46],[300.1,0.52],[301.1,0.52],[302.1,0.2],[303,0.2],[304.1,0.52],[306,0.52],[306.9,0.33],[308,1.05],[308.9,1.07],[310.2,1.42],[311.2,1.07],[314,1.07],[315.1,0.87],[316,1.28],[317,0.91],[321.1,0.91],[323.1,0],[325,0],[326.9,1.49],[328,1.7],[332.1,1.7],[334.1,0.2],[335.3,0],[336,0],[337,0.39],[337.9,0.39],[339,0.82],[343.1,0.82],[344.1,0.73],[345.3,1.07],[346.3,1.0],[347.4,1.42],[351.2,1.42],[352.1,1.57],[353,1.43],[354.1,0.94],[356,0.94],[358,1.83],[359,1.13],[360.3,0.88],[361.2,4.47],[362.1,4.47],[363.1,4.78],[364.2,4.42],[365.1,4.35],[366.1,4.35],[367.3,5.26]];
const paraTrend7: Pts = [[360.3,2.86],[367.3,5.33]];
const paraTrend30: Pts = [[337,-0.2],[367.3,3.85]];
const paraMedian = 0;

// axis ticks
const sarsLeftTicks = [0, 5, 10, 15, 20, 25, 30, 35];
const sarsRightTicks = [0, 2.5, 5, 7.5, 10, 12.5, 15, 17.5];
const fluALeftTicks = [0, 10, 20, 30, 40, 50, 60, 70];
const fluARightTicks = [0, 5, 10, 15, 20, 25];
const fluBLeftTicks = [0, 0.1, 0.2, 0.3, 0.4, 0.5, 0.6, 0.7];
const fluBRightTicks = [-0.1, 0, 0.1, 0.2, 0.3, 0.4];
const rsvLeftTicks = [0, 2.5, 5, 7.5, 10, 12.5, 15, 17.5];
const rsvRightTicks = [0, 1, 2, 3, 4, 5, 6, 7, 8];
const paraLeftTicks = [0, 0.2, 0.4, 0.6, 0.8, 1.0, 1.2];
const paraRightTicks = [0, 1, 2, 3, 4, 5];

const BLUE = '#00bfff';
const ORANGE = '#ff8c00';
const GREEN = '#008000';
const RED = '#ff0000';
const GOLD = '#ffd700';

const PLOT_H = 265;
const TITLE_H = 24;

interface PanelSpec {
  title: string;
  top: number;
  abs: Pts;
  rate: Pts;
  bars?: Pts;
  trend7: Pts;
  trend30: Pts;
  median: number;
  left: [number, number];
  leftTicks: number[];
  leftDigits: number;
  right: [number, number];
  rightTicks: number[];
  rightDigits: number;
  rki: boolean;
  xTitle: boolean;
}

const fmt = (v: number, d: number) => (v < 0 ? '\u2212' : '') + Math.abs(v).toFixed(d);
const xy = (p: Pts) => p.map(([x, y]) => ({ x, y }));

const panels: PanelSpec[] = [
  {
    title: 'SARS-CoV-2', top: 62, abs: sarsAbs, rate: sarsRate,
    bars: sarsBars.map((v, i) => [sarsBarStart + i, v]),
    trend7: sarsTrend7, trend30: sarsTrend30, median: sarsMedian,
    left: [-1.71, 35.13], leftTicks: sarsLeftTicks, leftDigits: 0,
    right: [-1.44, 18.32], rightTicks: sarsRightTicks, rightDigits: 1,
    rki: true, xTitle: false,
  },
  {
    title: 'Influenza A', top: 377, abs: fluAAbs, rate: fluARate,
    bars: weekDays.map((d, i) => [d, fluABars[i]]),
    trend7: fluATrend7, trend30: fluATrend30, median: fluAMedian,
    left: [-3.52, 78.6], leftTicks: fluALeftTicks, leftDigits: 0,
    right: [0, 28.69], rightTicks: fluARightTicks, rightDigits: 0,
    rki: true, xTitle: false,
  },
  {
    title: 'Influenza B', top: 692, abs: fluBAbs, rate: fluBRate,
    trend7: fluBTrend7, trend30: fluBTrend30, median: fluBMedian,
    left: [-0.0335, 0.749], leftTicks: fluBLeftTicks, leftDigits: 1,
    right: [-0.1006, 0.496], rightTicks: fluBRightTicks, rightDigits: 1,
    rki: false, xTitle: false,
  },
  {
    title: 'RSV', top: 1006, abs: rsvAbs, rate: rsvRate,
    bars: weekDays.map((d, i) => [d, rsvBars[i]]),
    trend7: rsvTrend7, trend30: rsvTrend30, median: rsvMedian,
    left: [-0.864, 18.71], leftTicks: rsvLeftTicks, leftDigits: 1,
    right: [0, 8.46], rightTicks: rsvRightTicks, rightDigits: 0,
    rki: true, xTitle: false,
  },
  {
    title: 'Parainfluenza', top: 1321, abs: paraAbs, rate: paraRate,
    trend7: paraTrend7, trend30: paraTrend30, median: paraMedian,
    left: [-0.0638, 1.349], leftTicks: paraLeftTicks, leftDigits: 1,
    right: [-0.472, 5.59], rightTicks: paraRightTicks, rightDigits: 0,
    rki: false, xTitle: true,
  },
];

const framePlugin = {
  id: 'frame',
  afterDraw(chart: any) {
    const { ctx, chartArea: a } = chart;
    ctx.save();
    ctx.strokeStyle = '#000';
    ctx.lineWidth = 1;
    ctx.strokeRect(Math.round(a.left) + 0.5, Math.round(a.top) + 0.5, Math.round(a.right - a.left) - 1, Math.round(a.bottom - a.top) - 1);
    ctx.restore();
  },
};

function Panel({ spec }: { spec: PanelSpec }) {
  const ref = useRef<HTMLCanvasElement>(null);
  const bottomH = spec.xTitle ? 36 : 22;
  const height = TITLE_H + PLOT_H + bottomH;

  useEffect(() => {
    if (!ref.current) return;
    const line = (data: Pts, color: string, axis: string, order: number, extra: any = {}) => ({
      type: 'line' as const,
      data: xy(data),
      yAxisID: axis,
      borderColor: color,
      backgroundColor: color,
      borderWidth: 2,
      pointRadius: 0,
      tension: 0,
      fill: false,
      order,
      ...extra,
    });
    const datasets: any[] = [];
    if (spec.bars) {
      datasets.push({
        type: 'bar',
        data: xy(spec.bars),
        yAxisID: 'y1',
        backgroundColor: GREEN,
        borderWidth: 0,
        barThickness: 3.9,
        order: 10,
      });
    }
    datasets.push(line(spec.abs, BLUE, 'y', 3));
    datasets.push(line(spec.rate, ORANGE, 'y1', 2));
    datasets.push(line([[xMin, spec.median], [xMax, spec.median]], '#000', 'y1', 1, { borderWidth: 1, borderDash: [1, 1.6] }));
    datasets.push(line(spec.trend30, GOLD, 'y1', 0, { borderWidth: 1.5, borderDash: [5.5, 2.4] }));
    datasets.push(line(spec.trend7, RED, 'y1', 0, { borderWidth: 1.5, borderDash: [5.5, 2.4] }));

    const chart = new Chart(ref.current, {
      type: 'line',
      data: { datasets },
      options: {
        animation: false,
        responsive: false,
        devicePixelRatio: 1,
        events: [],
        layout: { padding: 0 },
        plugins: {
          legend: { display: false },
          tooltip: { enabled: false },
          title: {
            display: true,
            text: spec.title,
            fullSize: false,
            color: '#000',
            font: { size: 13.5, weight: 'normal' },
            padding: { top: 5.3, bottom: 2.5 },
          },
        },
        scales: {
          x: {
            type: 'linear',
            min: xMin,
            max: xMax,
            offset: false,
            afterBuildTicks: (s: any) => { s.ticks = monthDays.map(v => ({ value: v })); },
            afterFit: (s: any) => { s.height = bottomH; },
            ticks: {
              autoSkip: false, maxRotation: 0, minRotation: 0, padding: 1, color: '#000',
              callback: (_v: any, i: number) => monthTicks[i],
            },
            grid: { drawOnChartArea: false, offset: false, tickLength: 5, color: '#000', tickColor: '#000' },
            border: { display: false },
            title: { display: spec.xTitle, text: 'Datum', color: '#000', padding: { top: 0, bottom: 2.4 } },
          },
          y: {
            type: 'linear',
            position: 'left',
            min: spec.left[0],
            max: spec.left[1],
            afterBuildTicks: (s: any) => { s.ticks = spec.leftTicks.map(v => ({ value: v })); },
            afterFit: (s: any) => { s.width = 55; },
            ticks: { padding: 3, color: '#000', callback: (v: any) => fmt(Number(v), spec.leftDigits) },
            grid: { drawOnChartArea: false, tickLength: 5, color: '#000', tickColor: '#000' },
            border: { display: false },
            title: { display: true, text: 'Positivmessungen (abs.)', color: BLUE, padding: { top: 14.8, bottom: 0 } },
          },
          y1: {
            type: 'linear',
            position: 'right',
            weight: 1,
            min: spec.right[0],
            max: spec.right[1],
            afterBuildTicks: (s: any) => { s.ticks = spec.rightTicks.map(v => ({ value: v })); },
            afterFit: (s: any) => { s.width = 48; },
            ticks: { padding: 3, color: '#000', callback: (v: any) => fmt(Number(v), spec.rightDigits) },
            grid: { drawOnChartArea: true, color: '#b0b0b0', lineWidth: 1, tickLength: 5, tickColor: '#000' },
            border: { display: false },
            title: { display: true, text: 'Positivrate (in %)', color: ORANGE, padding: { top: 0.4, bottom: 0 } },
          },
          y2: {
            type: 'linear',
            position: 'right',
            weight: 2,
            min: 0,
            max: 1,
            afterFit: (s: any) => { s.width = 23; },
            ticks: { display: false },
            grid: { display: false },
            border: { display: false },
            title: { display: spec.rki, text: 'RKI-Inzidenz Osten (pro 100k)', color: GREEN, padding: { top: 4.4, bottom: 0 } },
          },
        },
      } as any,
      plugins: [framePlugin],
    });
    return () => chart.destroy();
  }, [spec]);

  return (
    <canvas
      ref={ref}
      width={1918}
      height={height}
      style={{ position: 'absolute', left: 0, top: spec.top - TITLE_H, width: 1918, height }}
    />
  );
}

function Legend() {
  const base = 437;
  const item = (sx: number, tx: number, swatch: any, label: string) => (
    <div key={label}>
      <div style={{ position: 'absolute', left: sx - base - 1, top: '50%', width: 22, transform: 'translateY(-50%)', ...swatch }} />
      <div style={{ position: 'absolute', left: tx - base - 1, top: 0, bottom: 0, display: 'flex', alignItems: 'center', whiteSpace: 'nowrap' }}>{label}</div>
    </div>
  );
  return (
    <div style={{
      position: 'absolute', left: base, top: 8, width: 1037, height: 19, boxSizing: 'border-box',
      border: '1px solid #cccccc', borderRadius: 3, background: '#fff',
      fontFamily: "'DejaVu Sans', sans-serif", fontSize: 11.1, color: '#000',
    }}>
      {item(440, 470, { height: 0, borderTop: `2px solid ${BLUE}` }, 'Absolut (7d-Mittel)')}
      {item(597, 628, { height: 0, borderTop: `2px solid ${ORANGE}` }, 'Positivrate (7d-Mittel)')}
      {item(770, 802, { height: 8, background: GREEN }, 'RKI-Inzidenz (Region: Osten)')}
      {item(982, 1013, { height: 0, borderTop: `2px dashed ${RED}` }, '7d-Trend (PosRate)')}
      {item(1141, 1172, { height: 0, borderTop: `2px dashed ${GOLD}` }, '30d-Trend (PosRate)')}
      {item(1306, 1337, { height: 0, borderTop: '1px dotted #000' }, 'Jahresmedian (PosRate)')}
    </div>
  );
}

export default function App() {
  return (
    <div style={{ position: 'absolute', left: 0, top: 0, width: 1918, height: 1626, background: '#fff', overflow: 'hidden' }}>
      <Legend />
      {panels.map(p => <Panel key={p.title} spec={p} />)}
    </div>
  );
}
